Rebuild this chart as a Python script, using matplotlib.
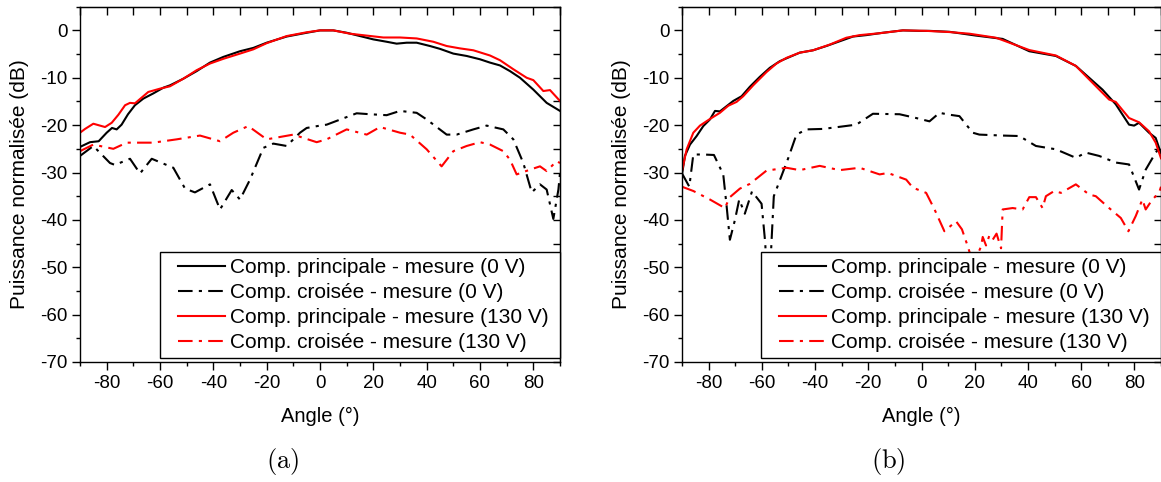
import matplotlib
matplotlib.use("Agg")
import matplotlib.pyplot as plt
from matplotlib.lines import Line2D
from matplotlib.legend_handler import HandlerLine2D
from matplotlib.ticker import MultipleLocator

plt.rcParams["font.family"] = ["Liberation Sans", "DejaVu Sans"]
plt.rcParams["mathtext.fontset"] = "cm"
plt.rcParams["axes.unicode_minus"] = False

LABELS = [
    "Comp. principale - mesure (0 V)",
    "Comp. croisée - mesure (0 V)",
    "Comp. principale - mesure (130 V)",
    "Comp. croisée - mesure (130 V)",
]

# --- (a) ---
a_main0_x = [-90, -86.25, -83, -80, -78, -76.25, -74.4, -72, -69.4, -66.25, -62.5, -58.75,
             -56.25, -51.25, -46.25, -41.25, -36.25, -30, -25, -20, -12.5, -5, 0, 5, 10, 15,
             20, 25, 28.75, 32.5, 36.25, 41.25, 45, 50, 55, 60, 63.75, 67.5, 71.25, 75, 80, 85, 90]
a_main0_y = [-24.6, -23.6, -23.4, -21.6, -20.6, -20.9, -19.9, -17.7, -15.8, -14.4, -13.3, -12.1,
             -11.6, -10.2, -8.6, -6.8, -5.6, -4.4, -3.7, -2.6, -1.3, -0.5, 0, 0, -0.5, -1.2,
             -1.9, -2.4, -2.8, -2.6, -2.6, -3.3, -3.9, -4.9, -5.4, -6.1, -6.8, -7.4, -8.6, -10,
             -12.5, -15.3, -17.0]

a_cross0_x = [-90, -85, -78.75, -76.9, -71.25, -67.5, -63.1, -55, -50.6, -46.9, -41.25, -37.5,
              -33.1, -30, -26.25, -21.25, -17.5, -12.5, -7.5, -5, 0, 2.5, 13.75, 18.75, 25, 30,
              36.25, 40, 47.5, 51.25, 57.5, 62.5, 68.75, 72.5, 76.25, 79.4, 82.5, 85, 87.5,
              89.4, 90]
a_cross0_y = [-26.5, -24.4, -28, -28.4, -27.1, -30.2, -27.1, -29, -33.4, -34.2, -32.5, -37.8,
              -33.7, -35.7, -31.5, -24.8, -23.9, -24.4, -21.6, -20.6, -20.1, -19.9, -17.5, -17.7,
              -17.9, -17, -17.4, -18.8, -22, -22, -20.9, -20.1, -20.9, -23, -28, -34.2, -32.5,
              -33.6, -39.8, -33.6, -30.1]

a_main130_x = [-90, -88.1, -85, -82.5, -80.6, -78.1, -75.6, -73.1, -71.25, -69.4, -66.9, -64.4,
               -60, -56.25, -51.25, -46.25, -41.25, -36.25, -30, -25, -20, -12.5, -5, 0, 5,
               11.25, 17.5, 23.75, 30, 36.25, 42.5, 47.5, 52.5, 57.5, 63.75, 67.5, 72.5, 77.5,
               80, 83.75, 86.25, 90]
a_main130_y = [-21.6, -20.8, -19.7, -20.1, -20.4, -19.5, -17.8, -15.8, -15.3, -15.4, -14.2,
               -13.0, -12.3, -11.8, -10.2, -8.4, -7.0, -6.0, -4.9, -4.0, -2.7, -1.2, -0.4, 0,
               0, -0.7, -1.1, -1.5, -1.5, -1.7, -2.4, -3.3, -3.8, -4.2, -5.3, -6.3, -8.2, -10,
               -10.5, -12.8, -12.6, -14.9]

a_cross130_x = [-90, -85, -77.5, -72.5, -62.5, -53.75, -45, -37.5, -32.5, -26.9, -20, -10,
                -1.25, 2.5, 10, 17.5, 22.5, 30, 33.75, 40, 45.6, 50, 55, 60, 63.75, 68.75,
                71.25, 73.75, 78.75, 82.5, 85, 88.75, 90]
a_cross130_y = [-25.5, -24.1, -25, -23.7, -23.7, -23, -22.2, -23.4, -21.6, -20.2, -23, -22,
                -23.6, -23, -20.9, -22, -20.4, -21.6, -22, -25.1, -28.7, -25.5, -24.4, -23.6,
                -24.1, -25.5, -27.3, -30.4, -29.4, -28.7, -29.7, -27.6, -28.0]

# --- (b) ---
b_main0_x = [-90, -88.9, -87, -84.5, -82, -79.5, -77.6, -75.75, -73.25, -70.75, -67.6, -64.5,
             -60.75, -57, -53.25, -45.75, -40.75, -35.75, -30.75, -25.75, -20.75, -14.5, -7,
             -0.75, 3, 10.5, 20.5, 30.5, 40.5, 50.5, 58, 63, 68, 73, 78, 79.9, 81.75, 85.5,
             88, 90]
b_main0_y = [-30.4, -26.5, -24.1, -22.3, -20.2, -18.8, -17.0, -17.1, -16.0, -14.9, -13.9,
             -11.9, -9.8, -7.9, -6.5, -4.7, -4.2, -3.3, -2.3, -1.3, -1.0, -0.5, 0, -0.1, -0.1,
             -0.3, -1.1, -1.8, -4.4, -5.4, -7.5, -10, -12.5, -15.6, -19.9, -20.1, -19.5, -21.6,
             -22.7, -26.0]

b_cross0_x = [-90, -87.25, -85.75, -82, -78, -74.5, -73.25, -72, -70.1, -68.5, -66.4, -63.7,
              -60.1, -58.7, -58, -57.2, -56.4, -55.5, -50.1, -47, -43.25, -37, -30, -24.5,
              -18.25, -8.25, -2, 3, 6.75, 10.5, 14.25, 19.25, 21.75, 30.5, 36.75, 43, 50.5, 58,
              61.75, 66.75, 73, 78, 81.75, 84.25, 88, 90]
b_cross0_y = [-30.2, -33.0, -26.2, -26.2, -26.3, -30.4, -37, -44.2, -40, -35.7, -38.7, -34,
              -36.6, -45, -55, -55, -45, -35, -27, -22, -20.9, -20.8, -20.3, -19.9, -17.6,
              -17.7, -18.5, -19.2, -17.4, -17.8, -18.1, -21.6, -22, -22.2, -22.3, -24.4, -25.1,
              -26.9, -25.8, -26.5, -27.9, -28.3, -33.6, -29.4, -25.8, -24.4]

b_main130_x = [-90, -88.25, -85.75, -83.25, -79.5, -75.75, -72.6, -69.5, -67, -63.25, -58.25,
               -54.5, -50.75, -45.75, -40.75, -34.5, -28.25, -23.25, -15.75, -7, 1.75, 10.5,
               18, 28, 40.5, 50.5, 58, 63, 70.5, 73, 78, 81.75, 85.5, 88, 90]
b_main130_y = [-29.7, -25.1, -21.6, -20.1, -18.7, -17.4, -15.9, -15.1, -13.9, -11.6, -8.8,
               -7.0, -5.8, -4.7, -4.2, -3.0, -1.55, -1.0, -0.6, 0, -0.1, -0.35, -0.7, -1.55,
               -4.15, -5.3, -7.5, -10.35, -14.6, -15.1, -18.5, -19.4, -21.3, -23.7, -27.0]

b_cross130_x = [-90, -85.75, -79.5, -73.9, -72, -68.25, -64.5, -58.25, -50.75, -45.75, -38.25,
                -30.75, -23.25, -15.75, -12.6, -5.75, -3.25, 1.75, 4.9, 8.6, 13, 15.2, 17.4,
                18.6, 20.5, 22.4, 23, 24.25, 25.5, 26.75, 28.2, 29.9, 30.5, 34.25, 38, 40.5,
                43, 45.5, 46.75, 49.9, 52.4, 58, 63, 65.5, 70.5, 74.9, 77.75, 80.5, 83, 84.25,
                86.75, 89.25, 90]
b_cross130_y = [-33.0, -33.9, -35.7, -37.5, -35.2, -33.4, -32.4, -29.6, -29, -29.5, -28.6,
                -29.5, -29.0, -30.4, -30.1, -31.5, -33.2, -34.3, -37.8, -42.4, -40.3, -42,
                -45.6, -47.8, -48, -45.6, -43.6, -45.4, -43.3, -44.2, -42.9, -46, -37.8, -37.5,
                -37.8, -35.2, -35.2, -37.5, -35, -33.9, -34.3, -32.5, -34.65, -35, -37.5, -39.6,
                -42.4, -39.2, -35.7, -37.8, -35.7, -34.3, -33.0]

DASHDOT = (0, (7, 3, 1.5, 3))
W, H = 1161, 482


def style_axes(ax):
    ax.set_xlim(-90, 90)
    ax.set_ylim(-70, 5)
    ax.xaxis.set_major_locator(MultipleLocator(20))
    ax.xaxis.set_minor_locator(MultipleLocator(10))
    ax.yaxis.set_major_locator(MultipleLocator(10))
    ax.yaxis.set_minor_locator(MultipleLocator(5))
    ax.tick_params(which="both", direction="out", top=False, right=False,
                   labelsize=13.5, width=1.0)
    ax.tick_params(which="major", length=5.5, pad=3.5)
    ax.tick_params(which="minor", length=2.8)
    for sp in ax.spines.values():
        sp.set_linewidth(1.0)

    # ticks vers l'intérieur en haut et à droite
    top = ax.secondary_xaxis("top")
    top.xaxis.set_major_locator(MultipleLocator(10))
    top.tick_params(direction="in", length=5.5, width=1.0, labeltop=False)
    right = ax.secondary_yaxis("right")
    right.yaxis.set_major_locator(MultipleLocator(5))
    right.tick_params(direction="in", length=5, width=1.0, labelright=False)

    ax.set_xlabel("Angle (°)", fontsize=14.5)
    ax.set_ylabel("Puissance normalisée (dB)", fontsize=15)
    ax.xaxis.set_label_coords(0.5, -(416 - 362) / 355.3)
    ax.xaxis.label.set_va("center")
    ax.yaxis.set_label_coords(-0.127, 0.5)
    ax.yaxis.label.set_va("center")


def draw_panel(ax, series):
    handles = []
    for (x, y), color, ls in zip(series, ["black", "black", "red", "red"],
                                 ["-", DASHDOT, "-", DASHDOT]):
        ln, = ax.plot(x, y, color=color, lw=1.5, linestyle=ls)
        handles.append(ln)
    style_axes(ax)
    # espace final : marge à droite du texte dans le cadre
    leg = ax.legend(handles, [lab + " " for lab in LABELS], loc="lower right",
                    bbox_to_anchor=(1.0, 0.0105), borderaxespad=0, fontsize=15,
                    fancybox=False, framealpha=1, edgecolor="black", borderpad=0.28,
                    labelspacing=0.29, handlelength=3.4, handletextpad=-0.33,
                    handler_map={Line2D: HandlerLine2D(numpoints=2, marker_pad=0.57)})
    leg.get_frame().set_linewidth(1.0)
    leg.set_zorder(10)


fig = plt.figure(figsize=(W / 100, H / 100), dpi=100)
ax_a = fig.add_axes([80 / W, (H - 362) / H, 480 / W, 355.3 / H])
ax_b = fig.add_axes([682 / W, (H - 362) / H, 479 / W, 355.3 / H])

draw_panel(ax_a, [(a_main0_x, a_main0_y), (a_cross0_x, a_cross0_y),
                  (a_main130_x, a_main130_y), (a_cross130_x, a_cross130_y)])
draw_panel(ax_b, [(b_main0_x, b_main0_y), (b_cross0_x, b_cross0_y),
                  (b_main130_x, b_main130_y), (b_cross130_x, b_cross130_y)])

fig.text(283 / W, 1 - 461.7 / H, r"$\mathrm{(a)}$", ha="center", va="center", fontsize=19)
fig.text(888 / W, 1 - 461.7 / H, r"$\mathrm{(b)}$", ha="center", va="center", fontsize=19)

fig.savefig("out.png", dpi=100)
